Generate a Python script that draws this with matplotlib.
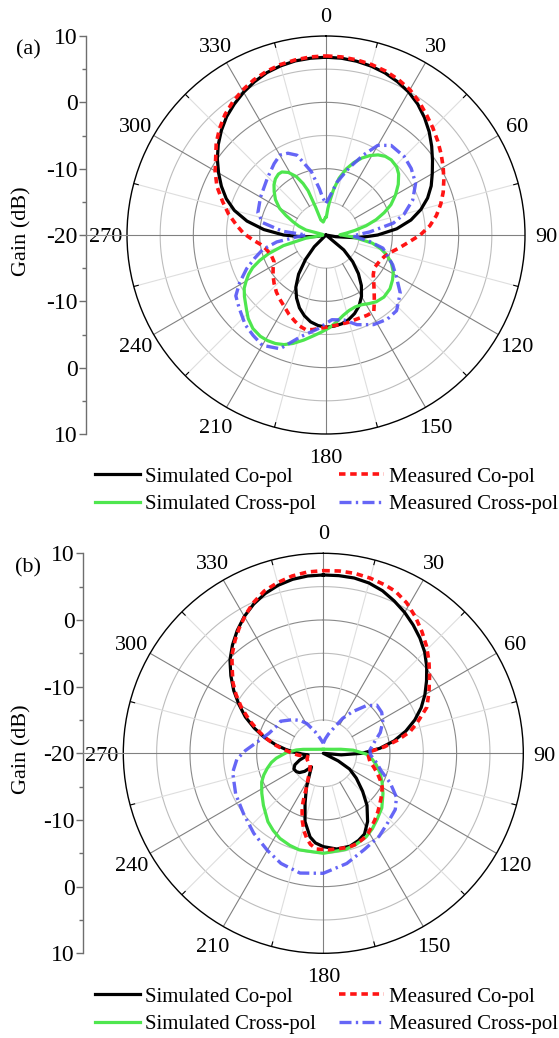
import numpy as np
import matplotlib.pyplot as plt
from matplotlib.lines import Line2D
from matplotlib.transforms import offset_copy

plt.rcParams['font.family'] = ['Liberation Serif', 'DejaVu Serif']

# ---------------- panel (a) ----------------
a_sim_co_ang = [0, 5, 10, 15, 20, 25, 30, 35, 40, 45, 50, 55, 60, 65, 70, 75, 80, 85, 90, 95,
                100, 104, 125, 130, 135, 140, 145, 150, 155, 160, 165, 170, 175, 180, 185,
                190, 195, 200, 205, 210, 215, 220, 225, 230, 258, 261, 265, 270, 275, 280,
                285, 290, 295, 300, 305, 310, 315, 320, 325, 330, 335, 340, 345, 350, 355, 360]
a_sim_co_db = [6.8, 6.75, 6.6, 6.35, 6.0, 5.5, 4.9, 4.1, 3.1, 2.0, 0.8, -0.4, -1.5, -2.5,
               -3.7, -5.2, -7.0, -9.3, -12.2, -15.1, -18.5, -20, -20, -16.5, -14.3, -12.4,
               -10.7, -9.3, -8.2, -7.4, -6.8, -6.4, -6.2, -6.1, -6.3, -6.7, -7.4, -8.3, -9.5,
               -10.9, -12.8, -15.2, -17.5, -20, -20, -18.6, -16.6, -13.6, -10.6, -7.9, -5.7,
               -4.0, -2.6, -1.3, 0.0, 1.2, 2.3, 3.3, 4.1, 4.85, 5.5, 6.05, 6.4, 6.65, 6.75, 6.8]

a_meas_co_ang = [0, 5, 10, 15, 20, 25, 30, 35, 40, 45, 50, 55, 60, 65, 70, 75, 80, 85, 90, 95,
                 100, 105, 110, 116, 124, 130, 134, 140, 144, 148, 153, 158, 166, 174, 182,
                 188, 192, 196, 200, 205, 211, 216, 221, 227, 233, 238, 243, 250, 257, 262,
                 266, 271, 276, 282, 288, 294, 300, 305, 310, 315, 320, 325, 330, 335, 340,
                 345, 350, 355, 360]
a_meas_co_db = [7.0, 6.95, 6.8, 6.6, 6.3, 5.85, 5.3, 4.5, 3.6, 2.8, 2.0, 1.2, 0.4, -0.4, -1.2,
                -2.1, -3.1, -4.3, -5.8, -7.5, -8.8, -9.9, -10.6, -11.0, -11.2, -10.7, -10.0,
                -8.7, -7.6, -6.4, -6.4, -6.5, -6.4, -6.3, -6.0, -5.6, -5.4, -5.7, -6.2, -6.8,
                -7.6, -8.1, -8.6, -9.3, -10.0, -10.6, -11.2, -11.2, -10.7, -10.0, -9.0, -7.6,
                -6.5, -5.0, -3.6, -2.0, -0.7, 0.3, 1.6, 2.7, 3.7, 4.5, 5.2, 5.8, 6.25, 6.6,
                6.8, 6.95, 7.0]

a_sim_x_ang = [0, 2, 4, 6, 9.5, 13, 17, 21, 25, 29, 33, 37, 41, 46, 50, 55, 60, 65, 69, 73,
               77, 81, 85, 89, 94, 100, 104, 108, 113, 119, 124, 130, 137, 143, 148, 153, 158,
               163, 168, 173, 178, 183, 187, 192, 197, 201, 205, 209, 213, 218, 223, 227, 233,
               237, 240, 243, 246, 249, 252, 256, 261, 265, 280, 284, 288, 292, 296, 300, 305,
               310, 314, 318, 322, 325, 329, 333, 336, 338, 339.5, 341, 348, 352, 356, 360]
a_sim_x_db = [-17.3, -17.0, -16.0, -15.0, -13.0, -11.2, -9.6, -8.3, -7.2, -6.3, -5.6, -5.15,
              -5.0, -5.2, -5.7, -6.7, -7.9, -9.2, -10.6, -12.1, -13.8, -15.6, -17.0, -17.9,
              -16.0, -12.9, -11.5, -10.4, -9.3, -8.4, -7.9, -7.4, -7.2, -7.4, -7.8, -8.2,
              -8.3, -8.1, -7.6, -6.8, -6.0, -5.3, -4.7, -3.8, -2.9, -2.3, -1.95, -1.8, -1.8,
              -2.1, -2.8, -3.6, -4.6, -5.3, -6.1, -6.9, -7.9, -9.3, -10.9, -13.4, -16.9,
              -19.5, -19.5, -16.9, -15.7, -14.6, -13.3, -11.9, -10.7, -9.8, -9.1, -8.6,
              -8.35, -8.4, -9.0, -10.1, -11.5, -12.8, -15.5, -17.6, -18.0, -17.8, -17.5, -17.3]

a_meas_x_ang = [0, 5, 12, 19, 25, 30, 36, 45, 52, 60, 68, 75, 80, 86, 92, 98, 103, 114, 121,
                128, 137, 144, 152, 161, 168, 176, 185, 194, 202, 210, 216, 222, 230, 236,
                241, 247, 252, 257, 262, 266, 270, 275, 281, 288, 300, 314, 324, 330, 335,
                340, 347, 352, 355, 360]
a_meas_x_db = [-15.2, -14.3, -11.8, -9.3, -6.7, -4.4, -3.3, -3.3, -3.7, -4.4, -5.9, -7.8,
               -9.7, -13.4, -16.0, -13.5, -11.2, -9.0, -7.6, -5.8, -4.4, -4.3, -4.7, -5.7,
               -6.9, -7.2, -5.8, -4.2, -1.5, -0.8, -1.3, -1.8, -2.9, -3.6, -5.1, -7.0, -8.7,
               -10.2, -12.5, -15.5, -17.0, -13.4, -10.3, -9.2, -8.6, -7.7, -6.7, -6.1, -6.4,
               -7.2, -10.2, -13.0, -14.4, -15.2]

# ---------------- panel (b) ----------------
b_sim_co_ang = [0, 5, 10, 15, 20, 25, 30, 35, 40, 45, 50, 55, 60, 65, 70, 75, 80, 85, 90, 95,
                100, 112, 117, 121, 127, 134, 140, 147, 153, 158, 164, 172, 180, 185, 189,
                195, 200, 206, 213, 221, 226, 231, 236, 242, 248, 254, 260, 264, 268, 273,
                276, 280, 285, 290, 295, 300, 305, 310, 315, 320, 325, 330, 335, 340, 345,
                350, 355, 360]
b_sim_co_db = [6.75, 6.75, 6.7, 6.45, 5.95, 5.2, 4.4, 3.5, 2.55, 1.5, 0.25, -1.1, -2.4, -3.8,
               -5.4, -7.2, -9.2, -11.5, -14.2, -17.3, -20, -20, -17.5, -15.4, -13.8, -11.8,
               -9.8, -7.8, -6.4, -5.9, -5.5, -5.5, -6.0, -6.5, -7.3, -9.4, -12.0, -14.2,
               -16.2, -17.3, -16.1, -15.4, -15.1, -15.0, -15.4, -16.3, -17.3, -17.7, -16.8,
               -15.4, -14.3, -12.8, -10.9, -9.0, -7.1, -5.4, -3.6, -1.9, -0.2, 1.2, 2.5, 3.7,
               4.7, 5.5, 6.1, 6.5, 6.7, 6.75]

b_meas_co_ang = [0, 5, 10, 15, 20, 24, 29, 34, 39, 44, 49, 54, 60, 66, 72, 76, 80, 84, 88, 94,
                 100, 105, 110, 115, 120, 126, 132, 137, 142, 146, 151, 155, 160, 165, 170,
                 177, 184, 188, 191, 194, 197, 200, 202, 204, 206, 211, 217, 225, 234, 242,
                 250, 258, 262, 266, 269, 272, 276, 280, 285, 289, 294, 299, 304, 308, 313,
                 317, 322, 326, 331, 335, 340, 345, 350, 355, 360]
b_meas_co_db = [7.4, 7.45, 7.4, 7.2, 6.9, 6.6, 5.8, 4.7, 3.5, 2.3, 1.0, -0.3, -1.7, -3.0,
                -5.2, -6.6, -8.7, -10.8, -13.0, -13.2, -12.9, -12.2, -11.4, -10.6, -9.8,
                -9.2, -8.6, -8.0, -7.4, -6.9, -6.2, -5.85, -5.5, -5.4, -5.5, -5.5, -5.6,
                -6.2, -7.0, -8.0, -9.3, -10.7, -11.7, -13.0, -14.2, -15.6, -16.6, -17.2,
                -17.5, -17.4, -17.4, -17.6, -17.0, -16.2, -15.6, -15.0, -13.9, -12.6, -11.0,
                -9.7, -7.9, -6.0, -4.2, -2.8, -1.3, 0.1, 1.5, 2.6, 3.9, 4.9, 5.9, 6.5, 7.0,
                7.3, 7.4]

b_sim_x_ang = [0, 30, 60, 70, 77, 84, 91, 97, 102, 109, 116, 124, 133, 141, 147, 153, 160,
               167, 180, 194, 200, 207, 213, 219, 229, 237, 245, 250, 255, 260, 264, 271, 277,
               281, 290, 300, 330, 360]
b_sim_x_db = [-19.4, -19.3, -18.8, -18.25, -17.3, -15.5, -13.55, -12.6, -11.9, -11.0, -10.2,
              -9.2, -8.0, -7.2, -6.5, -5.9, -5.5, -5.2, -5.0, -5.07, -5.3, -5.67, -6.2, -6.8,
              -8.1, -9.0, -9.8, -10.5, -11.3, -12.1, -12.9, -14.45, -15.9, -16.9, -18.25,
              -18.8, -19.3, -19.4]

b_meas_x_ang = [0, 8, 15, 22, 29, 35, 42, 48, 55, 62, 70, 78, 86, 92, 100, 107, 114, 121, 128,
                137, 146, 157, 168, 180, 191, 201, 210, 221, 233, 245, 258, 266, 272, 280,
                290, 300, 307, 318, 325, 331, 339, 347, 360]
b_meas_x_db = [-18.5, -17.8, -17.0, -16.0, -14.0, -12.4, -10.4, -9.2, -9.3, -9.9, -10.9,
               -12.2, -13.0, -12.9, -11.9, -10.9, -9.0, -7.2, -6.3, -5.8, -5.0, -4.3, -3.1,
               -2.0, -1.7, -2.3, -3.2, -4.1, -5.0, -5.5, -6.1, -7.0, -8.3, -10.0, -11.3,
               -11.9, -12.0, -13.2, -14.0, -14.9, -16.5, -17.6, -18.5]

angle_labels = [str(a) for a in range(0, 360, 30)]
gain_ticks = [10, 0, -10, -20, -10, 0, 10]
names = ['Simulated Co-pol', 'Simulated Cross-pol', 'Measured Co-pol', 'Measured Cross-pol']

W, H = 559, 1038
fig = plt.figure(figsize=(W / 100, H / 100), dpi=100)
fig.patch.set_facecolor('white')

styles = [
    dict(color='black', lw=2.3, zorder=5),
    dict(color='#4ee64e', lw=2.3, zorder=5.1),
    dict(color='#ff1414', lw=2.6, ls=(0, (1.8, 1.3)), zorder=5.2),
    dict(color='#5555f5', lw=2.4, ls=(0, (3.6, 1.3, 0.7, 1.3)), alpha=0.9, zorder=5.3),
]


def panel(cx, cy, r, axis_x, tag, curves, leg_y):
    ax = fig.add_axes([(cx - r) / W, 1 - (cy + r) / H, 2 * r / W, 2 * r / H],
                      projection='polar')
    ax.set_theta_zero_location('N')
    ax.set_theta_direction(-1)
    ax.set_ylim(-20, 10)
    ax.grid(False)
    ax.set_xticks([])
    ax.set_yticks([])
    ax.spines['polar'].set_color('black')
    ax.spines['polar'].set_linewidth(1.0)

    # rings every 5 dB, darker at -10 and 0
    th = np.linspace(0, 2 * np.pi, 721)
    for g in (-15, -10, -5, 0, 5):
        c = '#8a8a8a' if g in (-10, 0) else '#bdbdbd'
        ax.plot(th, np.full_like(th, g), color=c, lw=0.8, zorder=1)
    # spokes every 15 deg, darker every 30 deg
    for d in range(0, 360, 15):
        t = np.deg2rad(d)
        r0 = -20 if d in (90, 270) else -15
        c = '#808080' if d % 30 == 0 else '#dedede'
        ax.plot([t, t], [r0, 10], color=c, lw=0.8, zorder=1)
        if d % 30:
            ax.plot([t, t], [9.3, 10], color='black', lw=0.8, zorder=2)
    lab_tr = offset_copy(ax.transData, fig=fig, y=-2, units='points')
    for i, lab in enumerate(angle_labels):
        ax.text(np.deg2rad(30 * i), 13.2, lab, ha='center', va='center', fontsize=16,
                transform=lab_tr)

    handles = []
    for (ang, db), name, st in zip(curves, names, styles):
        ln, = ax.plot(np.deg2rad(ang), db, label=name, **st)
        handles.append(ln)

    # linear gain scale on the left
    ag = fig.add_axes([axis_x / W, 1 - (cy + r) / H, 0.0001, 2 * r / H])
    ag.set_ylim(-30, 30)
    for s in ('top', 'right', 'bottom'):
        ag.spines[s].set_visible(False)
    ag.spines['left'].set_color('#6e6e6e')
    ag.spines['left'].set_linewidth(1.0)
    ag.set_xticks([])
    ag.set_yticks([30, 20, 10, 0, -10, -20, -30])
    ag.set_yticklabels([str(v) for v in gain_ticks], fontsize=17)
    ag.set_yticks([25, 15, 5, -5, -15, -25], minor=True)
    ag.tick_params(axis='y', which='major', length=5, width=1.0, color='#6e6e6e', pad=1)
    ag.tick_params(axis='y', which='minor', length=3, width=1.0, color='#6e6e6e')
    ag.patch.set_visible(False)

    fig.add_artist(Line2D([axis_x / W, (cx - r) / W], [1 - cy / H] * 2,
                          color='#8a8a8a', lw=0.8))
    fig.text(22 / W, 1 - (cy - 4) / H, 'Gain (dB)', rotation=90, ha='center',
             va='center', fontsize=16)
    fig.text(28 / W, 1 - (cy - 185) / H, tag, ha='center', va='center', fontsize=16)

    fig.legend(handles=handles, loc='upper left', bbox_to_anchor=(95 / W, 1 - leg_y / H),
               ncol=2, frameon=False, fontsize=15, handlelength=2.16,
               handletextpad=0.25, columnspacing=1.1, labelspacing=0.38,
               borderpad=0, borderaxespad=0)


panel(326, 235, 199, 86, '(a)',
      [(a_sim_co_ang, a_sim_co_db), (a_sim_x_ang, a_sim_x_db),
       (a_meas_co_ang, a_meas_co_db), (a_meas_x_ang, a_meas_x_db)], 467)
panel(323.3, 753.3, 200, 83, '(b)',
      [(b_sim_co_ang, b_sim_co_db), (b_sim_x_ang, b_sim_x_db),
       (b_meas_co_ang, b_meas_co_db), (b_meas_x_ang, b_meas_x_db)], 987)

fig.savefig('out.png', dpi=100, facecolor='white')
